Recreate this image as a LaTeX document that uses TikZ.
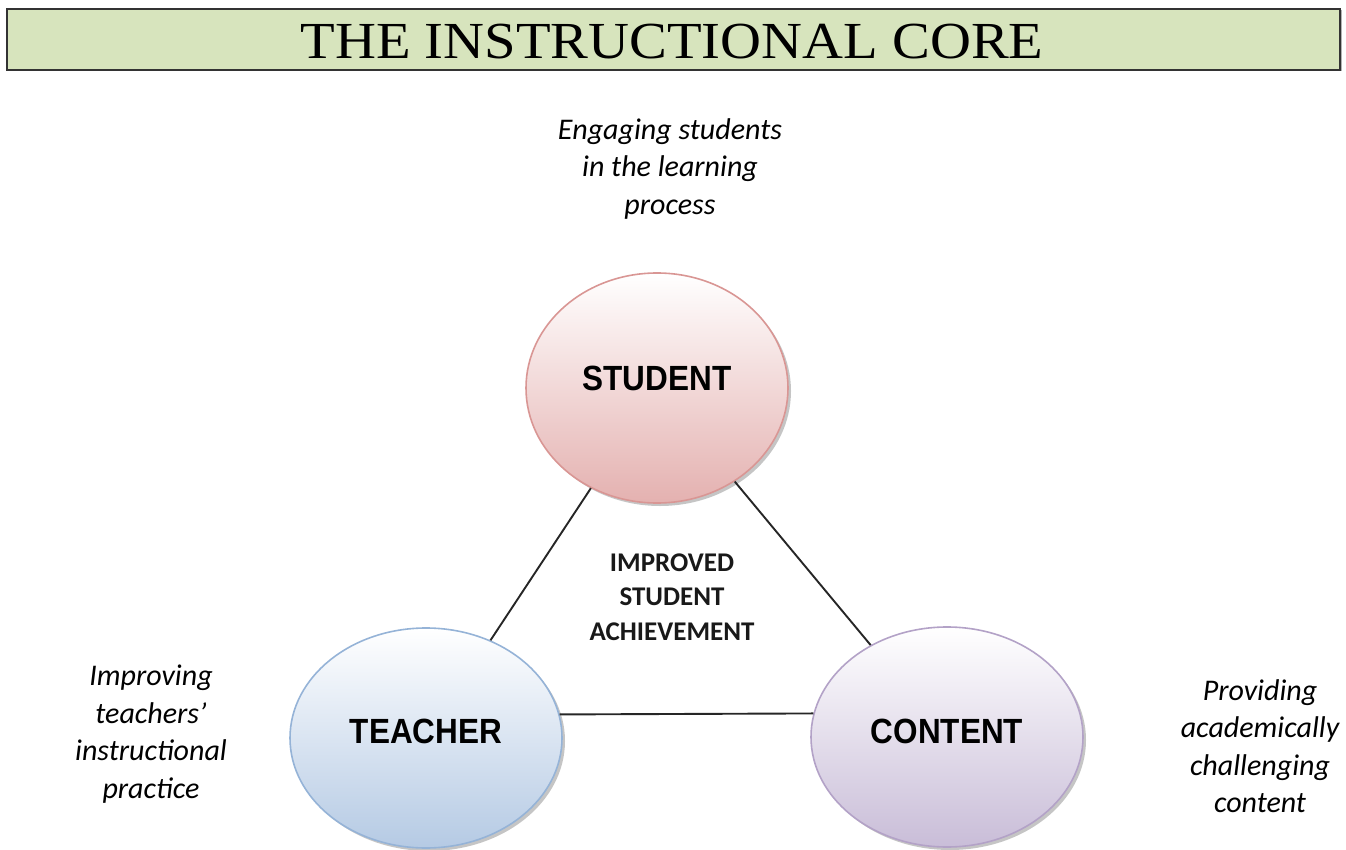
\documentclass[tikz,border=0pt]{standalone}
\usepackage{fontspec}
\setmainfont{Carlito}
\newfontfamily\titlefont[FakeStretch=1.09]{Liberation Serif}
\newfontfamily\narrowfont[FakeStretch=0.9]{Liberation Sans}
\usetikzlibrary{shapes.geometric,shadows}
\definecolor{titlegreen}{HTML}{D7E4BD}
\definecolor{stuborder}{HTML}{D99694}
\definecolor{stufill}{HTML}{E4B1B0}
\definecolor{teaborder}{HTML}{95B3D7}
\definecolor{teafill}{HTML}{B5CAE4}
\definecolor{conborder}{HTML}{B3A2C7}
\definecolor{confill}{HTML}{C9BDD8}
\tikzset{
  core/.style={ellipse, draw, line width=1.6pt, inner sep=0pt,
    minimum width=272pt, minimum height=220pt,
    drop shadow={shadow xshift=3pt, shadow yshift=-3pt, fill=black!45, opacity=0.5}},
  bigword/.style={font=\narrowfont\bfseries\fontsize{35}{40}\selectfont},
  note/.style={font=\itshape\fontsize{30}{37.5}\selectfont, align=center},
  link/.style={line width=1.9pt, black!85}
}
\begin{document}
\begin{tikzpicture}[x=1pt,y=-1pt]
\useasboundingbox (0,0) rectangle (1346,850);
\node[draw=black!80, line width=1.5pt, fill=titlegreen, minimum width=1333pt, minimum height=61pt, inner sep=0pt,
  drop shadow={shadow xshift=1.5pt, shadow yshift=-1.5pt, fill=black!60}] (title) at (673.5,39.5) {};
\node[font=\titlefont\fontsize{52}{60}\selectfont, inner sep=0pt] (titletext) at (672,42) {THE INSTRUCTIONAL CORE};

\node[core, draw=stuborder, top color=white, bottom color=stufill] (student) at (657,388) [minimum width=262pt, minimum height=230pt] {};
\node[core, draw=teaborder, top color=white, bottom color=teafill] (teacher) at (426,738) {};
\node[core, draw=conborder, top color=white, bottom color=confill] (content) at (947,737) {};

\node[bigword] (studenttext) at (657,378) {STUDENT};
\node[bigword] (teachertext) at (426,731) {TEACHER};
\node[bigword] (contenttext) at (947,731) {CONTENT};

\draw[link] (student) -- (teacher);
\draw[link] (student) -- (content);
\draw[link] (teacher.10) -- (content.170);

\node[font=\bfseries\fontsize{27}{34.5}\selectfont, align=center, black!90] (core) at (672,597)
  {IMPROVED\\STUDENT\\ACHIEVEMENT};

\node[note] (engage) at (670,169) {Engaging students\\in the learning\\process};
\node[note] (improve) at (151,734) {Improving\\teachers'\\instructional\\practice};
\node[note] (provide) at (1260,746) {Providing\\academically\\challenging\\content};
\end{tikzpicture}
\end{document}
